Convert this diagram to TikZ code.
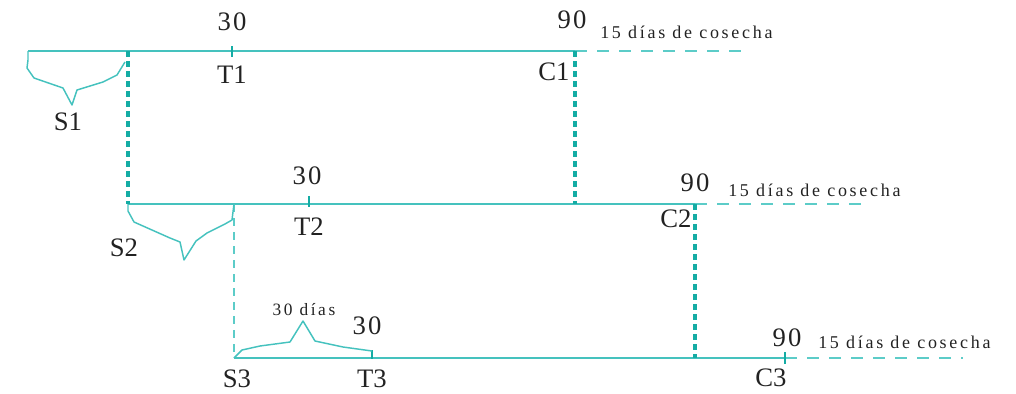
\documentclass[tikz,border=0pt]{standalone}
\usepackage{fontspec}
\usetikzlibrary{calc}
\setmainfont{Liberation Serif}
\newfontfamily\spacedfont[LetterSpace=15]{Liberation Serif}
\newfontfamily\numfont[LetterSpace=8]{Liberation Serif}
\definecolor{lineteal}{HTML}{45C2BE}
\definecolor{dotteal}{HTML}{14ACA4}
\definecolor{dashteal}{HTML}{5CCCC8}
\definecolor{txt}{HTML}{222222}
\begin{document}
\begin{tikzpicture}[x=0.75pt,y=-0.75pt,
  mainline/.style={draw=lineteal,line width=1.5pt},
  tickline/.style={draw=dotteal,line width=1.8pt},
  vdots/.style={draw=dotteal,line width=2.4pt,dash pattern=on 4.5pt off 3pt},
  vthin/.style={draw=dashteal,line width=1.2pt,dash pattern=on 6pt off 4.5pt},
  hdash/.style={draw=dashteal,line width=1.5pt,dash pattern=on 9pt off 7.5pt},
  bracel/.style={draw=lineteal,line width=1.1pt,line join=round},
  big/.style={text=txt,font=\fontsize{20}{20}\selectfont,inner sep=0pt},
  bignum/.style={text=txt,font=\fontsize{20}{20}\numfont,inner sep=0pt},
  small/.style={text=txt,font=\fontsize{13.5}{14}\spacedfont,inner sep=0pt,anchor=west}]
\useasboundingbox (0,0) rectangle (1016,393);
% coordinates
\coordinate (a1) at (28,51);
\coordinate (b1) at (128,51);
\coordinate (k1) at (232,51);
\coordinate (c1) at (575,51);
\coordinate (e1) at (742,51);
\coordinate (a2) at (128,204);
\coordinate (b2) at (234,204);
\coordinate (k2) at (309,204);
\coordinate (m2) at (575,204);
\coordinate (c2) at (695,204);
\coordinate (e2) at (862,204);
\coordinate (a3) at (234,358);
\coordinate (k3) at (372,358);
\coordinate (m3) at (695,358);
\coordinate (c3) at (785,358);
\coordinate (e3) at (963,358);
% main lines
\draw[mainline] (a1) -- (c1);
\draw[mainline] (a2) -- (c2);
\draw[mainline] (a3) -- (c3);
% dashed extensions
\draw[hdash] (c1) -- (e1);
\draw[hdash] (c2) -- (e2);
\draw[hdash] (c3) -- (e3);
% verticals
\draw[vdots] (b1) -- (a2);
\draw[vdots] (c1) -- (m2);
\draw[vthin] (b2) -- (a3);
\draw[vdots] (c2) -- (m3);
% ticks
\draw[tickline] ($(k1)+(0,-5)$) -- ($(k1)+(0,6)$);
\draw[tickline] ($(k2)+(0,-8)$) -- ($(k2)+(0,3)$);
\draw[tickline] ($(k3)+(0,-8)$) -- ($(k3)+(0,1)$);
\draw[tickline] ($(c3)+(0,-6)$) -- ($(c3)+(0,6)$);
% braces
\draw[bracel] (a1) -- (28,60) -- (27,68) -- (34,78) -- (63,88) -- (72,105) -- (77,90) -- (103,82) -- (117,75) -- (125,62);
\draw[bracel] (a2) -- (128,211) -- (134,222) -- (170,238) -- (180,242) -- (184,260) -- (196,241) -- (207,233) -- (225,224) -- (232,220) -- (b2);
\draw[bracel] (a3) -- (242,350) -- (260,346) -- (290,342) -- (303,321) -- (315,341) -- (343,347) -- (372,351);
% labels
\node[bignum] (n30a) at (232,22) {30};
\node[big] (lT1) at (232,75) {T1};
\node[big] (lS1) at (68,122) {S1};
\node[big] (lC1) at (554,72) {C1};
\node[bignum] (n90a) at (572,20) {90};
\node[small] (h1) at (600,32) {15 días de cosecha};
\node[bignum] (n30b) at (307,176) {30};
\node[big] (lT2) at (309,227) {T2};
\node[big] (lS2) at (124,248) {S2};
\node[big] (lC2) at (676,219) {C2};
\node[bignum] (n90b) at (695,183) {90};
\node[small] (h2) at (728,190) {15 días de cosecha};
\node[text=txt,font=\fontsize{13}{14}\spacedfont,inner sep=0pt] (d30) at (304,310) {30 días};
\node[bignum] (n30c) at (367,326) {30};
\node[big] (lS3) at (237,379) {S3};
\node[big] (lT3) at (372,379) {T3};
\node[big] (lC3) at (771,378) {C3};
\node[bignum] (n90c) at (787,338) {90};
\node[small] (h3) at (818,342) {15 días de cosecha};
\end{tikzpicture}
\end{document}
